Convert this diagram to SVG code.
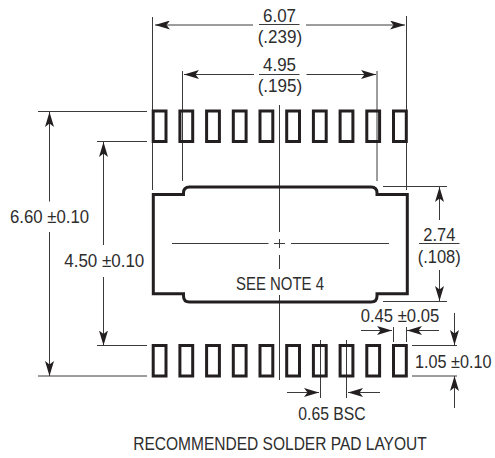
<svg xmlns="http://www.w3.org/2000/svg" width="495" height="458" viewBox="0 0 495 458">
<style>
text{font-family:"Liberation Sans",Arial,sans-serif;font-size:18px;fill:#2d2d2d;}
.d{stroke:#3a3a3a;stroke-width:1;fill:none}
.p{fill:none;stroke:#231f20;stroke-width:3}
</style>
<defs>
<marker id="a" viewBox="0 0 15 9" refX="15" refY="4.500" markerWidth="15" markerHeight="9" orient="auto" markerUnits="userSpaceOnUse"><path d="M0 0L15 4.500L0 9L3.500 4.500Z" fill="#231f20"/></marker>
</defs>
<rect width="495" height="458" fill="#fff"/>
<g id="connectors" class="d">
<path d="M152.500 17V190M406.500 16V190M182.500 71V181M377 71V181"/>
<path d="M279.500 105V232M279.500 239V248M279.500 255V269M279.500 295V380"/>
<path d="M172 243.500H268.500M274 243.500H285M291 243.500H389"/>
<path d="M253 25H155" marker-end="url(#a)"/><path d="M306 25H405" marker-end="url(#a)"/>
<path d="M254 74.500H184" marker-end="url(#a)"/><path d="M306.500 74.500H376" marker-end="url(#a)"/>
<path d="M38 111.500H147M97 141.500H147M97 345.500H147M38 376H147"/>
<path d="M49.500 201.500V112" marker-end="url(#a)"/><path d="M49.500 232V376" marker-end="url(#a)"/>
<path d="M103.500 245V142" marker-end="url(#a)"/><path d="M103.500 277V345.500" marker-end="url(#a)"/>
<path d="M383 186.500H447M383 301.500H447"/>
<path d="M439.500 220V187" marker-end="url(#a)"/><path d="M439.500 270V301" marker-end="url(#a)"/>
<path d="M361 330.500H392" marker-end="url(#a)"/><path d="M439 330.500H407" marker-end="url(#a)"/>
<path d="M393.500 327V342M406.500 327V342"/>
<path d="M454.500 313V345" marker-end="url(#a)"/><path d="M454.500 408V376" marker-end="url(#a)"/>
<path d="M412 345.500H457M412 376H457"/>
<path d="M287 392.500H319" marker-end="url(#a)"/><path d="M380 392.500H348" marker-end="url(#a)"/>
<path d="M320.500 340V398M346.500 340V398"/>
</g>
<g id="body"><path class="p" d="M153.300 293.700V194.500H183.500V193Q183.500 187 189.500 187H371Q377 187 377 193V194.500H407.300V293.700H377V296Q377 302 371 302H189.500Q183.500 302 183.500 296V293.700Z"/></g>
<g id="pads-top">
<rect class="p" x="153.200" y="111" width="12.800" height="30.500"/><rect class="p" x="179.900" y="111" width="12.800" height="30.500"/><rect class="p" x="206.600" y="111" width="12.800" height="30.500"/><rect class="p" x="233.300" y="111" width="12.800" height="30.500"/><rect class="p" x="260" y="111" width="12.800" height="30.500"/><rect class="p" x="286.700" y="111" width="12.800" height="30.500"/><rect class="p" x="313.400" y="111" width="12.800" height="30.500"/><rect class="p" x="340.100" y="111" width="12.800" height="30.500"/><rect class="p" x="366.800" y="111" width="12.800" height="30.500"/><rect class="p" x="393.500" y="111" width="12.800" height="30.500"/>
</g>
<g id="pads-bottom">
<rect class="p" x="153.200" y="345.500" width="12.800" height="30.500"/><rect class="p" x="179.900" y="345.500" width="12.800" height="30.500"/><rect class="p" x="206.600" y="345.500" width="12.800" height="30.500"/><rect class="p" x="233.300" y="345.500" width="12.800" height="30.500"/><rect class="p" x="260" y="345.500" width="12.800" height="30.500"/><rect class="p" x="286.700" y="345.500" width="12.800" height="30.500"/><rect class="p" x="313.400" y="345.500" width="12.800" height="30.500"/><rect class="p" x="340.100" y="345.500" width="12.800" height="30.500"/><rect class="p" x="366.800" y="345.500" width="12.800" height="30.500"/><rect class="p" x="393.500" y="345.500" width="12.800" height="30.500"/>
</g>
<g id="labels">
<text x="263" y="21.700" textLength="33" lengthAdjust="spacingAndGlyphs">6.07</text><path class="d" d="M259 24.500H299.500"/><text x="257.700" y="42.500" textLength="44.500" lengthAdjust="spacingAndGlyphs">(.239)</text>
<text x="263" y="71" textLength="33" lengthAdjust="spacingAndGlyphs">4.95</text><path class="d" d="M259 74.500H299.500"/><text x="257.700" y="92" textLength="44.500" lengthAdjust="spacingAndGlyphs">(.195)</text>
<text x="10" y="223.300" textLength="79" lengthAdjust="spacingAndGlyphs">6.60 ±0.10</text>
<text x="64.300" y="266.700" textLength="80" lengthAdjust="spacingAndGlyphs">4.50 ±0.10</text>
<text x="236" y="290" textLength="88" lengthAdjust="spacingAndGlyphs">SEE NOTE 4</text>
<text x="423.300" y="240.700" textLength="32" lengthAdjust="spacingAndGlyphs">2.74</text><path class="d" d="M419 243.500H459.500"/><text x="417.700" y="262.500" textLength="43" lengthAdjust="spacingAndGlyphs">(.108)</text>
<text x="360.700" y="321.500" textLength="78.600" lengthAdjust="spacingAndGlyphs">0.45 ±0.05</text>
<text transform="translate(415 368) scale(.9 1)" x="0" y="0">1.05 ±0.10</text>
<text x="298.300" y="420" textLength="67.400" lengthAdjust="spacingAndGlyphs">0.65 BSC</text>
<text x="133.300" y="450" textLength="293.400" lengthAdjust="spacingAndGlyphs">RECOMMENDED SOLDER PAD LAYOUT</text>
</g>
</svg>
